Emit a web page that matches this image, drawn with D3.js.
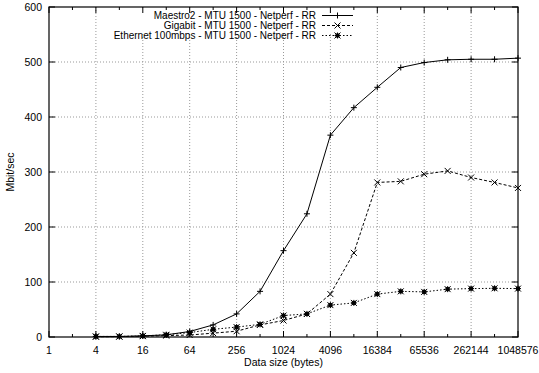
<!DOCTYPE html>
<html><head><meta charset="utf-8">
<script src="https://cdn.jsdelivr.net/npm/d3@7"></script>
<style>body{margin:0;background:#fff}svg{display:block;font-family:"Liberation Sans",Arial,sans-serif}</style>
</head><body><svg id="c" width="539" height="373"></svg>
<script>
const sizes = [4,8,16,32,64,128,256,512,1024,2048,4096,8192,16384,32768,65536,131072,262144,524288,1048576];
const maestro = [1,1,2,4,10,22,42,83,157,224,367,417,454,490,499,504,505,505,507];
const gigabit = [0.5,0.7,1.5,2.5,3.6,7,10.5,22,30,42,78,153,281,283,296,302,290,281,271];
const ethernet = [1,1,2,4,8,14,18,23,39,42,58,62,78,83,82,87,88,88.5,88];
const xTicks = [1,4,16,64,256,1024,4096,16384,65536,262144,1048576];
const xMinor = [2,8,32,128,512,2048,8192,32768,131072,524288];
const yTicks = [0,100,200,300,400,500,600];
const seriesNames = ["Maestro2 - MTU 1500 - Netperf - RR","Gigabit  - MTU 1500 - Netperf - RR","Ethernet 100mbps - MTU 1500 - Netperf - RR"];

const svg = d3.select("#c");
const L=49, R=518, T=7, B=337;
const x = d3.scaleLog().base(2).domain([1,1048576]).range([L,R]);
const y = d3.scaleLinear().domain([0,600]).range([B,T]);
const fs = "10.5px";

// grid
const g = svg.append("g");
g.selectAll("line.gx").data(xTicks.slice(1,-1)).enter().append("line")
 .attr("x1",d=>x(d)).attr("x2",d=>x(d)).attr("y1",T).attr("y2",B)
 .attr("stroke","#999").attr("stroke-dasharray","1,2").attr("stroke-width",1);
g.selectAll("line.gy").data(yTicks.slice(1,-1)).enter().append("line")
 .attr("x1",L).attr("x2",R).attr("y1",d=>y(d)).attr("y2",d=>y(d))
 .attr("stroke","#999").attr("stroke-dasharray","1,2").attr("stroke-width",1);

// legend background
svg.append("rect").attr("x",100).attr("y",T+1).attr("width",257).attr("height",24).attr("fill","#fff");

// axes frame
svg.append("rect").attr("x",L).attr("y",T).attr("width",R-L).attr("height",B-T)
 .attr("fill","none").attr("stroke","#000").attr("stroke-width",1.2);

// ticks
const tk = svg.append("g").attr("stroke","#000").attr("stroke-width",1);
xTicks.forEach(d=>{tk.append("line").attr("x1",x(d)).attr("x2",x(d)).attr("y1",B).attr("y2",B-6);
 tk.append("line").attr("x1",x(d)).attr("x2",x(d)).attr("y1",T).attr("y2",T+6);});
xMinor.forEach(d=>{tk.append("line").attr("x1",x(d)).attr("x2",x(d)).attr("y1",B).attr("y2",B-3);
 tk.append("line").attr("x1",x(d)).attr("x2",x(d)).attr("y1",T).attr("y2",T+3);});
yTicks.forEach(d=>{tk.append("line").attr("x1",L).attr("x2",L+6).attr("y1",y(d)).attr("y2",y(d));
 tk.append("line").attr("x1",R).attr("x2",R-6).attr("y1",y(d)).attr("y2",y(d));});

// tick labels
svg.selectAll("text.xl").data(xTicks).enter().append("text")
 .attr("x",d=>x(d)).attr("y",B+17).attr("text-anchor","middle").attr("font-size",fs).text(d=>d);
svg.selectAll("text.yl").data(yTicks).enter().append("text")
 .attr("x",L-7).attr("y",d=>y(d)+4).attr("text-anchor","end").attr("font-size",fs).text(d=>d);

svg.append("text").attr("x",(L+R)/2).attr("y",B+29).attr("text-anchor","middle").attr("font-size",fs).text("Data size (bytes)");
svg.append("text").attr("transform",`translate(14,${(T+B)/2}) rotate(-90)`).attr("text-anchor","middle").attr("font-size",fs).text("Mbit/sec");

// series
const data = [maestro, gigabit, ethernet];
const dashes = [null, "3,2", "1.5,2"];
const line = d3.line().x(d=>x(d[0])).y(d=>y(d[1]));
function marker(gg, cx, cy, k){
  const s=3;
  if(k===0||k===2){gg.append("line").attr("x1",cx-s).attr("x2",cx+s).attr("y1",cy).attr("y2",cy);
    gg.append("line").attr("x1",cx).attr("x2",cx).attr("y1",cy-s).attr("y2",cy+s);}
  if(k===1||k===2){gg.append("line").attr("x1",cx-s).attr("x2",cx+s).attr("y1",cy-s).attr("y2",cy+s);
    gg.append("line").attr("x1",cx-s).attr("x2",cx+s).attr("y1",cy+s).attr("y2",cy-s);}
  if(k===2){gg.append("rect").attr("x",cx-1.5).attr("y",cy-1.5).attr("width",3).attr("height",3).attr("fill","#000");}
}
data.forEach((vals,k)=>{
  const pts = sizes.map((s,i)=>[s,vals[i]]);
  svg.append("path").attr("d",line(pts)).attr("fill","none").attr("stroke","#000").attr("stroke-width",1)
   .attr("stroke-dasharray",dashes[k]);
  const mg = svg.append("g").attr("stroke","#000").attr("stroke-width",1);
  pts.forEach(p=>marker(mg,x(p[0]),y(p[1]),k));
});

// legend
seriesNames.forEach((n,k)=>{
  const yy = 15.5 + k*10;
  svg.append("text").attr("x",316).attr("y",yy+3.5).attr("text-anchor","end").attr("font-size","10px").text(n);
  svg.append("line").attr("x1",322).attr("x2",353).attr("y1",yy).attr("y2",yy).attr("stroke","#000").attr("stroke-width",1).attr("stroke-dasharray",dashes[k]);
  const mg = svg.append("g").attr("stroke","#000").attr("stroke-width",1);
  marker(mg,337.5,yy,k);
});
</script></body></html>
